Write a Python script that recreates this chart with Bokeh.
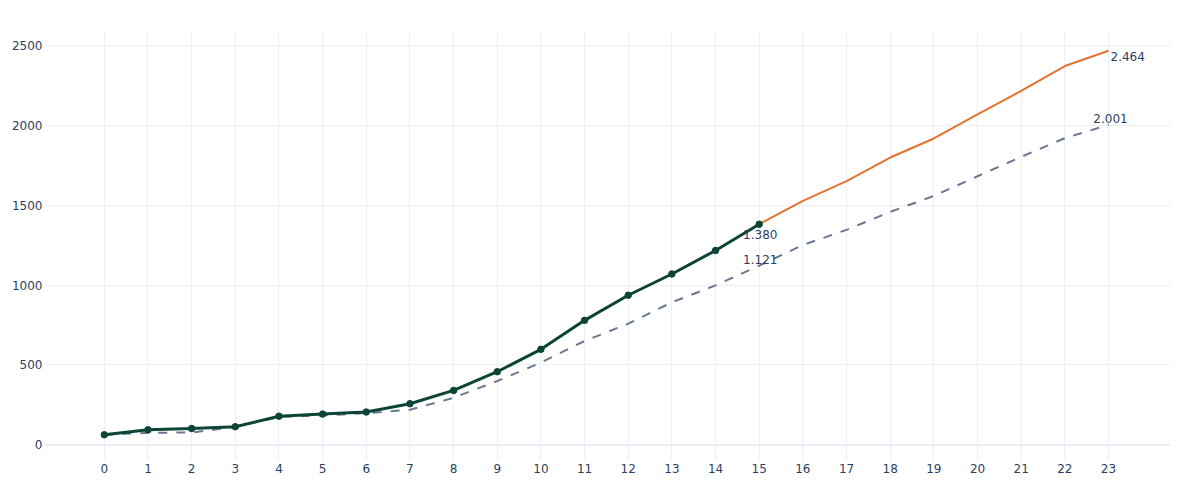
from bokeh.plotting import figure
from bokeh.models import Range1d, FixedTicker, Span, ColumnDataSource
from bokeh.embed import file_html
from bokeh.resources import INLINE
from bokeh.core.properties import value

# ---- data ----
hours = list(range(24))
actual_x = hours[:16]
actual = [64, 95, 103, 114, 180, 193, 206, 258, 341, 458, 598, 779, 936, 1069, 1216, 1380]
forecast_x = hours[15:]
forecast = [1380, 1526, 1649, 1797, 1916, 2066, 2214, 2369, 2464]
expected_x = hours
expected = [64, 76, 78, 112, 175, 185, 199, 220, 295, 400, 515, 650, 758, 892, 998,
            1121, 1250, 1345, 1457, 1557, 1680, 1801, 1918, 2001]
y_ticks = [0, 500, 1000, 1500, 2000, 2500]


def fmt(v):
    return f"{v:,}".replace(",", ".")


FONT = "DejaVu Sans"
TXT = "#2a3f5f"
GRID = "#ebf0f8"

p = figure(width=1184, height=484, output_backend="svg", toolbar_location=None,
           x_range=Range1d(-1.37, 24.42), y_range=Range1d(-97, 2591),
           min_border_left=44, min_border_right=14, min_border_top=30,
           min_border_bottom=24)
p.outline_line_color = None
p.background_fill_color = "white"

for ax in (p.xaxis, p.yaxis):
    ax.axis_line_color = None
    ax.major_tick_line_color = None
    ax.minor_tick_line_color = None
    ax.major_tick_out = 0
    ax.major_label_text_font = FONT
    ax.major_label_text_font_size = "12px"
    ax.major_label_text_color = TXT
p.xaxis.ticker = FixedTicker(ticks=hours)
p.yaxis.ticker = FixedTicker(ticks=y_ticks)
p.xaxis.major_label_standoff = 3
p.yaxis.major_label_standoff = 2

p.xgrid.ticker = FixedTicker(ticks=hours)
p.ygrid.ticker = FixedTicker(ticks=y_ticks)
p.grid.grid_line_color = GRID
p.grid.grid_line_width = 1

p.add_layout(Span(location=0, dimension="width", line_color=GRID, line_width=2))

# lines
p.line(expected_x, expected, line_color="#6a7891", line_width=2, line_dash="9 9")
p.line(forecast_x, forecast, line_color="#e5732f", line_width=2)
p.line(actual_x, actual, line_color="#0c4535", line_width=3)
p.scatter(actual_x, actual, size=6.5, fill_color="#0c4535", line_color="#0c4535")


def label(x, y, align, xo, yo):
    src = ColumnDataSource(dict(x=[x], y=[y], t=[fmt(y)]))
    p.text(x="x", y="y", text="t", source=src, text_align=align,
           text_baseline="alphabetic", x_offset=xo, y_offset=yo,
           text_font=value(FONT), text_font_size="12px", text_color=TXT)


label(actual_x[-1], actual[-1], "center", 1, 10)
label(expected_x[15], expected[15], "center", 1, -6)
label(forecast_x[-1], forecast[-1], "left", 2, 6)
label(expected_x[-1], expected[-1], "center", 2, -6)

open("out.html", "w").write(file_html(p, INLINE))
